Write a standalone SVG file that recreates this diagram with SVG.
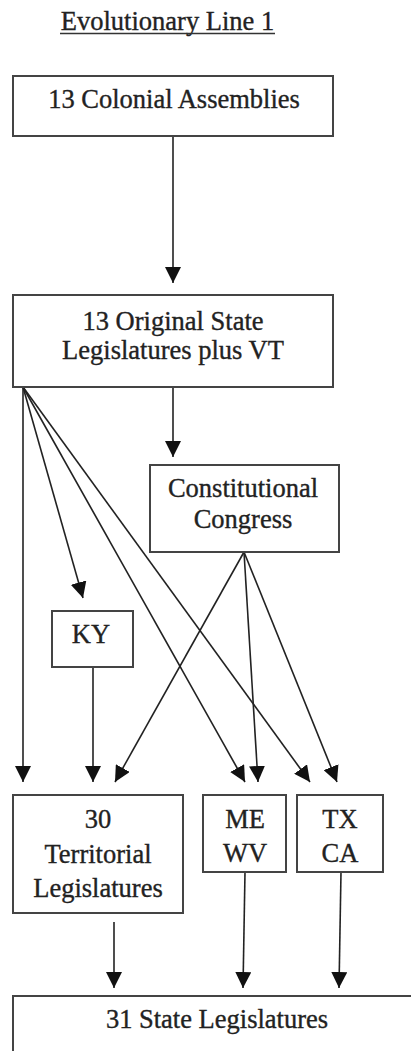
<svg xmlns="http://www.w3.org/2000/svg" width="411" height="1051" viewBox="0 0 411 1051">
<defs>
<marker id="ah" markerUnits="userSpaceOnUse" markerWidth="16" markerHeight="16" viewBox="0 0 16 16" refX="16" refY="8" orient="auto">
<path d="M0,0 L16,8 L0,16 z" fill="#111"/>
</marker>
<style>
.box{fill:#fff;stroke:#444;stroke-width:2}
.t{font-family:"Liberation Serif","Times New Roman","DejaVu Serif",serif;font-size:26.5px;fill:#222;stroke:#222;stroke-width:0.35;text-anchor:middle}
.c{stroke:#222;stroke-width:1.6;fill:none;marker-end:url(#ah)}
</style>
</defs>
<rect width="411" height="1051" fill="#fff"/>
<g id="title">
<text class="t" x="167.5" y="30">Evolutionary Line 1</text>
<line x1="60" y1="33.5" x2="275" y2="33.5" stroke="#333" stroke-width="1.3"/>
</g>
<g id="connectors">
<line class="c" x1="173" y1="136" x2="173" y2="283"/>
<line class="c" x1="173" y1="387" x2="173" y2="457"/>
<line class="c" x1="23" y1="387" x2="83" y2="598"/>
<line class="c" x1="23" y1="387" x2="23" y2="782"/>
<line class="c" x1="23" y1="387" x2="245" y2="782"/>
<line class="c" x1="23" y1="387" x2="310" y2="782"/>
<line class="c" x1="244" y1="552" x2="115" y2="782"/>
<line class="c" x1="244" y1="552" x2="258" y2="782"/>
<line class="c" x1="244" y1="552" x2="337" y2="782"/>
<line class="c" x1="93" y1="667" x2="93" y2="782"/>
<line class="c" x1="114" y1="922" x2="114" y2="988"/>
<line class="c" x1="245" y1="872" x2="243" y2="988"/>
<line class="c" x1="341" y1="872" x2="339" y2="988"/>
</g>
<g id="colonial">
<rect class="box" x="13" y="76" width="320" height="60"/>
<text class="t" x="174" y="108">13 Colonial Assemblies</text>
</g>
<g id="original">
<rect class="box" x="13" y="295" width="320" height="92"/>
<text class="t" x="173" y="330">13 Original State</text>
<text class="t" x="173" y="359">Legislatures plus VT</text>
</g>
<g id="congress">
<rect class="box" x="150" y="465" width="189" height="87"/>
<text class="t" x="243" y="497">Constitutional</text>
<text class="t" x="243" y="528">Congress</text>
</g>
<g id="ky">
<rect class="box" x="52" y="611" width="81" height="56"/>
<text class="t" x="91" y="643">KY</text>
</g>
<g id="territorial">
<rect class="box" x="13" y="795" width="170" height="118"/>
<text class="t" x="98" y="828">30</text>
<text class="t" x="98" y="863">Territorial</text>
<text class="t" x="98" y="897">Legislatures</text>
</g>
<g id="mewv">
<rect class="box" x="203" y="795" width="83" height="77"/>
<text class="t" x="245" y="828">ME</text>
<text class="t" x="245" y="862">WV</text>
</g>
<g id="txca">
<rect class="box" x="297" y="795" width="86" height="77"/>
<text class="t" x="340" y="828">TX</text>
<text class="t" x="340" y="862">CA</text>
</g>
<g id="state">
<rect class="box" x="13" y="996" width="420" height="80"/>
<text class="t" x="217" y="1028">31 State Legislatures</text>
</g>
</svg>
